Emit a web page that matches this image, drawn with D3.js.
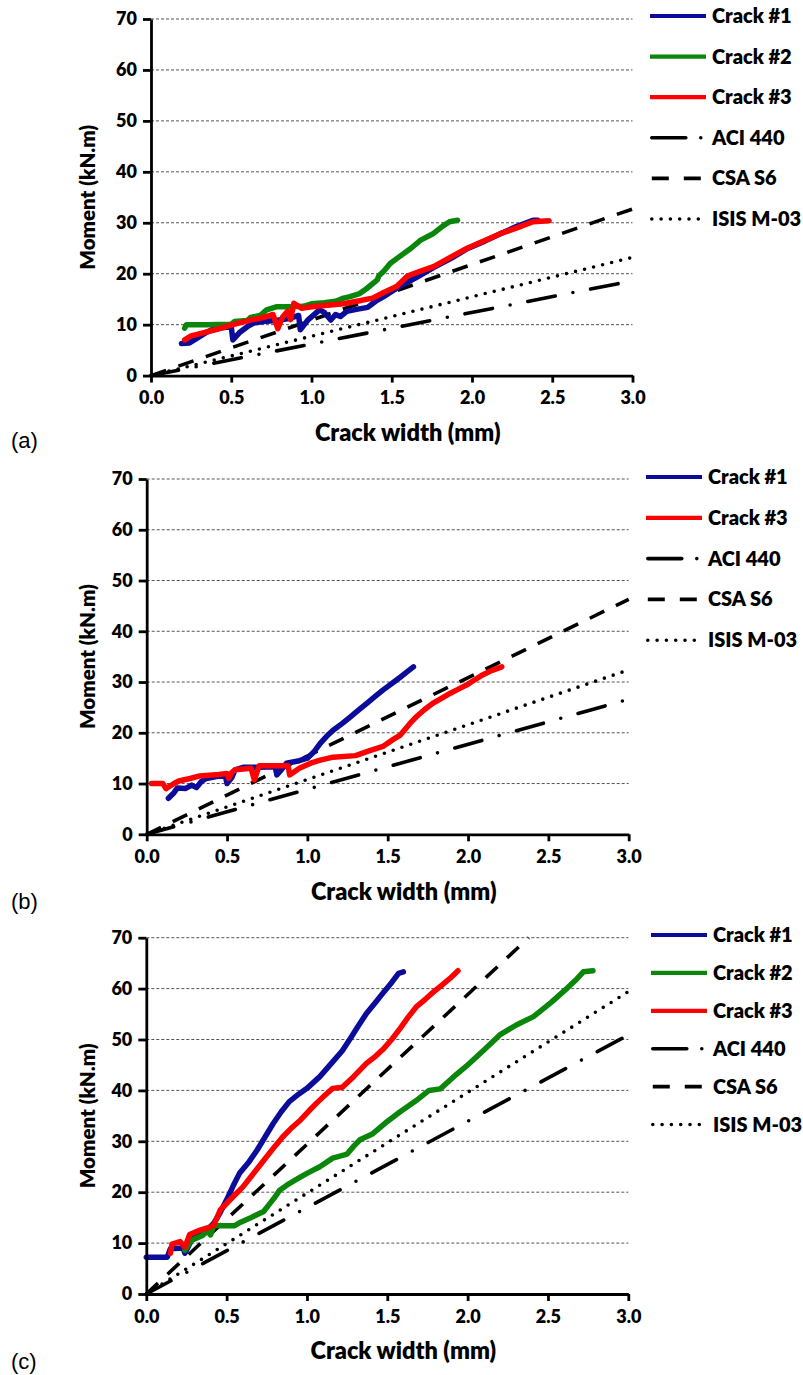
<!DOCTYPE html>
<html>
<head>
<meta charset="utf-8">
<script src="https://cdn.jsdelivr.net/npm/d3@7"></script>
<style>
	body { margin: 0; background: #fff; }
	svg { display: block; }
	text { font-family: Lato, 'Open Sans', sans-serif; font-weight: 800; fill: #000; }
	.panel-tag { font-family: 'Liberation Sans', Arial, sans-serif; font-weight: 400; }
</style>
</head>
<body>
<svg id="chart" width="803" height="1375"></svg>
<script>
const W = 803;
const H = 1375;

const xTicks = [0, 0.5, 1.0, 1.5, 2.0, 2.5, 3.0];
const yTicks = [0, 10, 20, 30, 40, 50, 60, 70];

// crack readings [width mm, moment kN.m]
const crackA1 = [
	[0.19, 6.3], [0.24, 6.4], [0.27, 7.0], [0.30, 7.6], [0.34, 8.4], [0.38, 9.0], [0.44, 9.4],
	[0.5, 9.6], [0.51, 7.0], [0.55, 8.4], [0.6, 9.6], [0.64, 10.3], [0.7, 10.6], [0.78, 10.8],
	[0.86, 11.2], [0.92, 11.8], [0.93, 9.0], [0.98, 11.0], [1.05, 12.9], [1.08, 12.4], [1.12, 10.9],
	[1.15, 12.0], [1.18, 11.6], [1.22, 12.6], [1.28, 13.0], [1.35, 13.4], [1.4, 14.6], [1.45, 15.5],
	[1.5, 16.5], [1.55, 17.5], [1.65, 19.2], [1.76, 21.2], [1.87, 23.0], [1.97, 24.9], [2.08, 26.4],
	[2.18, 27.9], [2.28, 29.3], [2.38, 30.5], [2.41, 30.5]
];
const crackA2 = [
	[0.21, 9.3], [0.22, 10.0], [0.35, 10.0], [0.5, 10.1], [0.52, 10.6], [0.6, 10.8], [0.62, 11.4],
	[0.68, 11.8], [0.72, 12.9], [0.78, 13.5], [0.87, 13.5], [0.95, 13.6], [1.0, 14.1], [1.08, 14.3],
	[1.15, 14.6], [1.2, 15.2], [1.24, 15.5], [1.3, 16.1], [1.34, 17.0], [1.41, 18.8], [1.42, 19.6],
	[1.45, 20.5], [1.49, 22.0], [1.55, 23.4], [1.62, 25.0], [1.68, 26.6], [1.76, 27.9], [1.82, 29.4],
	[1.86, 30.2], [1.91, 30.5]
];
const crackA3 = [
	[0.21, 7.0], [0.25, 7.8], [0.3, 8.2], [0.4, 9.0], [0.51, 10.0], [0.62, 10.9], [0.7, 11.4],
	[0.76, 12.0], [0.79, 9.2], [0.82, 11.5], [0.85, 12.6], [0.87, 11.0], [0.89, 14.2], [0.94, 13.2],
	[1.0, 13.5], [1.1, 13.8], [1.2, 14.1], [1.3, 14.7], [1.38, 15.2], [1.45, 16.3], [1.53, 17.5],
	[1.6, 19.6], [1.68, 20.5], [1.76, 21.4], [1.87, 23.3], [1.97, 25.0], [2.08, 26.5], [2.18, 27.9],
	[2.28, 29.0], [2.38, 30.2], [2.48, 30.4]
];
const crackB1 = [
	[0.135, 7.1], [0.17, 8.2], [0.19, 9.1], [0.24, 9.0], [0.28, 9.7], [0.31, 9.2], [0.34, 10.4],
	[0.37, 11.0], [0.45, 11.5], [0.49, 11.4], [0.5, 10.0], [0.53, 11.2], [0.55, 12.7], [0.6, 13.2],
	[0.7, 13.2], [0.8, 13.3], [0.81, 11.7], [0.84, 12.8], [0.87, 14.0], [0.95, 14.5], [1.0, 15.0],
	[1.04, 16.2], [1.08, 17.9], [1.12, 19.3], [1.16, 20.5], [1.22, 21.9], [1.27, 23.2], [1.32, 24.5],
	[1.37, 25.8], [1.42, 27.1], [1.47, 28.4], [1.53, 29.8], [1.58, 31.0], [1.62, 32.0], [1.66, 33.0]
];
const crackB3 = [
	[0.03, 10.0], [0.1, 10.0], [0.12, 9.0], [0.17, 10.0], [0.2, 10.5], [0.27, 11.0], [0.33, 11.5],
	[0.45, 11.8], [0.5, 12.0], [0.51, 11.0], [0.53, 12.2], [0.55, 12.7], [0.65, 13.0], [0.67, 10.7],
	[0.7, 13.5], [0.8, 13.5], [0.88, 13.5], [0.89, 11.7], [0.95, 13.0], [1.02, 14.0], [1.08, 14.6],
	[1.16, 15.2], [1.3, 15.5], [1.37, 16.3], [1.47, 17.3], [1.53, 18.6], [1.58, 19.6], [1.64, 21.9],
	[1.68, 23.2], [1.73, 24.6], [1.78, 25.8], [1.84, 26.9], [1.89, 27.8], [1.94, 28.6], [1.99, 29.4],
	[2.04, 30.4], [2.09, 31.4], [2.15, 32.3], [2.21, 33.0]
];
const crackC1 = [
	[0.0, 7.2], [0.13, 7.2], [0.15, 8.9], [0.2, 9.0], [0.23, 9.0], [0.24, 8.0], [0.28, 10.5],
	[0.33, 11.9], [0.38, 12.6], [0.42, 13.9], [0.46, 16.0], [0.5, 18.5], [0.54, 21.2], [0.58, 23.7],
	[0.64, 26.0], [0.69, 28.3], [0.74, 30.9], [0.79, 33.5], [0.84, 35.8], [0.89, 37.8], [0.95, 39.3],
	[1.0, 40.4], [1.08, 42.7], [1.16, 45.6], [1.22, 47.8], [1.27, 50.2], [1.32, 52.7], [1.37, 55.1],
	[1.43, 57.4], [1.48, 59.4], [1.53, 61.3], [1.57, 63.0], [1.6, 63.3]
];
const crackC2 = [
	[0.24, 8.6], [0.28, 10.5], [0.35, 11.5], [0.38, 12.4], [0.4, 11.6], [0.42, 13.5], [0.46, 13.4],
	[0.55, 13.4], [0.58, 14.0], [0.65, 15.0], [0.73, 16.2], [0.77, 17.8], [0.8, 19.0], [0.83, 20.4],
	[0.89, 21.7], [0.95, 22.8], [1.0, 23.7], [1.08, 25.0], [1.16, 26.7], [1.25, 27.5], [1.29, 29.0],
	[1.33, 30.3], [1.41, 31.5], [1.5, 33.9], [1.58, 35.8], [1.68, 38.0], [1.76, 40.0], [1.83, 40.3],
	[1.91, 42.6], [1.99, 44.7], [2.1, 47.9], [2.2, 50.9], [2.3, 52.8], [2.41, 54.5], [2.52, 57.3],
	[2.62, 60.1], [2.68, 61.9], [2.72, 63.3], [2.78, 63.5]
];
const crackC3 = [
	[0.15, 8.0], [0.16, 9.8], [0.21, 10.3], [0.24, 9.2], [0.27, 11.7], [0.33, 12.5], [0.4, 13.2],
	[0.42, 13.5], [0.46, 16.5], [0.54, 19.1], [0.6, 21.0], [0.65, 23.0], [0.7, 25.0], [0.75, 27.0],
	[0.8, 29.0], [0.85, 30.9], [0.9, 32.5], [0.96, 34.2], [1.01, 35.9], [1.06, 37.5], [1.11, 39.0],
	[1.16, 40.4], [1.22, 40.6], [1.29, 42.7], [1.37, 45.3], [1.43, 46.8], [1.48, 48.3], [1.53, 50.1],
	[1.58, 52.2], [1.63, 54.4], [1.68, 56.4], [1.74, 58.0], [1.79, 59.4], [1.84, 60.7], [1.89, 62.0],
	[1.94, 63.5]
];

// code predictions: straight lines from the origin, end points per panel
const aciEnd = [[3.0, 18.6], [3.0, 26.6], [3.0, 50.9]];
const csaEnd = [[3.0, 32.7], [3.0, 46.3], [2.38, 70.0]];
const isisEnd = [[3.0, 23.2], [3.0, 32.4], [3.0, 59.4]];

const panelTags = ['(a)', '(b)', '(c)'];

const styles = {
	c1: { color: '#0c0c9a', width: 5.5, dash: null, cap: 'round', label: 'Crack #1' },
	c2: { color: '#0a870a', width: 5.5, dash: null, cap: 'round', label: 'Crack #2' },
	c3: { color: '#ff0000', width: 5.5, dash: null, cap: 'round', label: 'Crack #3' },
	aci: { color: '#000', width: 3.6, dash: '28 18 0 18', cap: 'round', label: 'ACI 440', legendDash: '34 15 0 20' },
	csa: { color: '#000', width: 3.6, dash: '16 13', cap: 'butt', label: 'CSA S6', legendDash: '17 15' },
	isis: { color: '#000', width: 3.6, dash: '0 9.3', cap: 'round', label: 'ISIS M-03', legendDash: '0 9.3' }
};

// layout of the three stacked panels (pixel frames)
const panels = [
	{
		left: 151, right: 632.5, top: 19, bottom: 375.6,
		legX: 650, legTop: 16, legStep: 40.6, tagY: 440,
		series: [['c1', crackA1], ['c2', crackA2], ['c3', crackA3]],
		codes: 0
	},
	{
		left: 146.7, right: 628.7, top: 479, bottom: 834.3,
		legX: 646, legTop: 477, legStep: 40.8, tagY: 901.7,
		series: [['c1', crackB1], ['c3', crackB3]],
		codes: 1
	},
	{
		left: 146.3, right: 628.3, top: 937.7, bottom: 1294,
		legX: 651, legTop: 935, legStep: 37.9, tagY: 1361.7,
		series: [['c1', crackC1], ['c2', crackC2], ['c3', crackC3]],
		codes: 2
	}
];

const svg = d3.select('#chart');

function drawPanel(p, i) {
	const x = d3.scaleLinear().domain([0, 3]).range([p.left, p.right]);
	const y = d3.scaleLinear().domain([0, 70]).range([p.bottom, p.top]);
	const g = svg.append('g').attr('class', `panel panel-${i}`);

	// gridlines
	g.append('g')
		.selectAll('line')
		.data(yTicks.filter(d => d > 0))
		.enter()
		.append('line')
		.attr('x1', x(0))
		.attr('x2', x(3))
		.attr('y1', d => y(d))
		.attr('y2', d => y(d))
		.attr('stroke', '#555')
		.attr('stroke-width', 1)
		.attr('stroke-dasharray', '3 2');

	const line = d3
		.line()
		.x(d => x(d[0]))
		.y(d => y(d[1]));

	// code lines
	const ends = [['aci', aciEnd[p.codes]], ['csa', csaEnd[p.codes]], ['isis', isisEnd[p.codes]]];
	ends.forEach(([key, end]) => {
		const s = styles[key];
		g.append('path')
			.attr('d', line([[0, 0], end]))
			.attr('fill', 'none')
			.attr('stroke', s.color)
			.attr('stroke-width', s.width)
			.attr('stroke-linecap', s.cap)
			.attr('stroke-dasharray', s.dash);
	});

	// measured cracks
	p.series.forEach(([key, data]) => {
		const s = styles[key];
		g.append('path')
			.attr('d', line(data))
			.attr('fill', 'none')
			.attr('stroke', s.color)
			.attr('stroke-width', s.width)
			.attr('stroke-linejoin', 'round')
			.attr('stroke-linecap', 'round');
	});

	// axes
	const xAxis = d3
		.axisBottom(x)
		.tickValues(xTicks)
		.tickFormat(d3.format('.1f'))
		.tickSize(7)
		.tickSizeOuter(0)
		.tickPadding(9);
	const yAxis = d3
		.axisLeft(y)
		.tickValues(yTicks)
		.tickSize(8)
		.tickSizeOuter(0)
		.tickPadding(6);

	const gx = g.append('g').attr('transform', `translate(0,${y(0)})`).call(xAxis);
	const gy = g.append('g').attr('transform', `translate(${x(0)},0)`).call(yAxis);
	[gx, gy].forEach(a => {
		a.selectAll('path, line').attr('stroke', '#000').attr('stroke-width', 2.8);
		a.selectAll('text').attr('font-size', 18).attr('fill', '#000');
	});

	g.append('text')
		.attr('x', (p.left + p.right) / 2 + 16)
		.attr('y', p.bottom + 57)
		.attr('dy', '0.35em')
		.attr('text-anchor', 'middle')
		.attr('font-size', 23.5)
		.text('Crack width (mm)');

	g.append('text')
		.attr('transform', `translate(88,${(p.top + p.bottom) / 2}) rotate(-90)`)
		.attr('dy', '0.35em')
		.attr('text-anchor', 'middle')
		.attr('font-size', 20.5)
		.text('Moment (kN.m)');

	g.append('text')
		.attr('class', 'panel-tag')
		.attr('x', 11)
		.attr('y', p.tagY)
		.attr('dy', '0.35em')
		.attr('font-size', 22)
		.text(panelTags[i]);

	// legend
	const keys = p.series.map(d => d[0]).concat(['aci', 'csa', 'isis']);
	const leg = g
		.append('g')
		.selectAll('g')
		.data(keys)
		.enter()
		.append('g')
		.attr('transform', (d, j) => `translate(${p.legX},${p.legTop + j * p.legStep})`);

	leg.append('line')
		.attr('x1', d => (styles[d].dash ? 1.8 : 0))
		.attr('x2', 56)
		.attr('stroke', d => styles[d].color)
		.attr('stroke-width', d => (styles[d].dash ? 3.6 : 4.2))
		.attr('stroke-linecap', d => styles[d].cap === 'round' && styles[d].dash ? 'round' : 'butt')
		.attr('stroke-dasharray', d => styles[d].legendDash || null);

	leg.append('text')
		.attr('x', 62)
		.attr('dy', '0.35em')
		.attr('font-size', 20)
		.text(d => styles[d].label);
}

panels.forEach(drawPanel);
</script>
</body>
</html>
